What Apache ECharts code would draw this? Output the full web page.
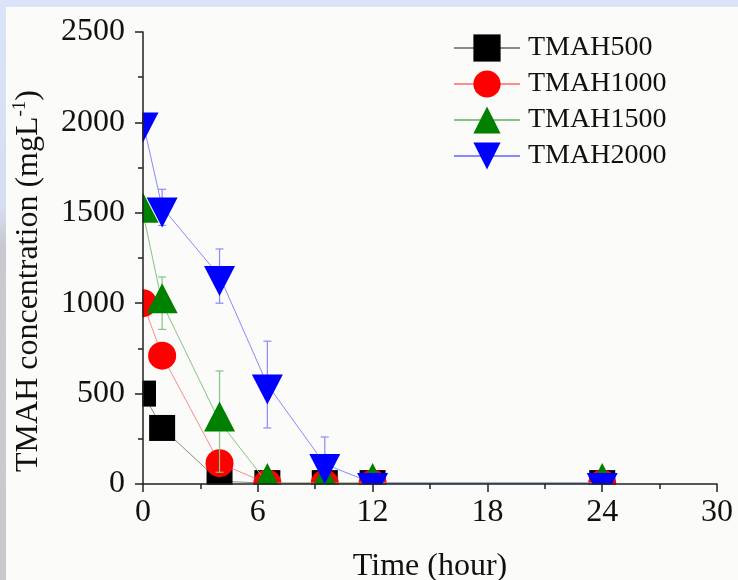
<!DOCTYPE html>
<html>
<head>
<meta charset="utf-8">
<title>TMAH concentration vs time</title>
<script src="https://cdn.jsdelivr.net/npm/echarts@6/dist/echarts.min.js"></script>
<style>
  html, body { margin: 0; padding: 0; background: #fbfbf9; }
  #chart { width: 738px; height: 580px; }
</style>
</head>
<body>
<div id="chart"></div>
<script>
// Sampling times (hour)
var times = [0, 1, 4, 6.5, 9.5, 12, 24];

// TMAH concentration (mg/L) for each initial dose
var tmah500  = [500, 310, 15, 5, 5, 5, 5];
var tmah1000 = [1000, 710, 115, 3, 3, 3, 3];
var tmah1500 = [1500, 1000, 345, 5, 5, 5, 5];
var tmah2000 = [2000, 1530, 1150, 550, 110, 5, 5];

// Standard deviations (mg/L), 0 = no bar drawn
var err500  = [0, 0, 0, 0, 0, 0, 0];
var err1000 = [0, 0, 0, 0, 0, 0, 0];
var err1500 = [0, 145, 280, 0, 0, 0, 0];
var err2000 = [0, 100, 150, 240, 150, 0, 0];

var xTicks = [0, 6, 12, 18, 24, 30];
var yTicks = [0, 500, 1000, 1500, 2000, 2500];

var FONT = 'Liberation Serif, Times New Roman, serif';
var BG = '#fbfbf9';

var seriesDefs = [
  { name: 'TMAH500',  values: tmah500,  errs: err500,  mark: '#000000', line: '#8a8a8a',
    symbol: 'rect', size: 26, offset: [0, 0] },
  { name: 'TMAH1000', values: tmah1000, errs: err1000, mark: '#ff0000', line: '#ff8a8a',
    symbol: 'circle', size: 28, offset: [0, 0] },
  { name: 'TMAH1500', values: tmah1500, errs: err1500, mark: '#008000', line: '#84c484',
    symbol: 'triangle', size: [31, 30], offset: [0, -5] },
  { name: 'TMAH2000', values: tmah2000, errs: err2000, mark: '#0000ff', line: '#8a8aff',
    symbol: 'path://M0,0L2,0L1,2Z', size: [31, 30], offset: [0, 5] }
];

function pairs(values) {
  return times.map(function (t, i) { return [t, values[i]]; });
}

function errorData(values, errs) {
  return times.map(function (t, i) { return [t, values[i], errs[i]]; });
}

function errorBarRenderer(color) {
  return function (params, api) {
    var e = api.value(2);
    if (!e) return null;
    var x = api.value(0), v = api.value(1);
    var top = api.coord([x, v + e]);
    var bot = api.coord([x, v - e]);
    var hw = 4;
    var style = { stroke: color, lineWidth: 1.2, fill: null };
    return {
      type: 'group',
      children: [
        { type: 'line', shape: { x1: top[0], y1: top[1], x2: bot[0], y2: bot[1] }, style: style },
        { type: 'line', shape: { x1: top[0] - hw, y1: top[1], x2: top[0] + hw, y2: top[1] }, style: style },
        { type: 'line', shape: { x1: bot[0] - hw, y1: bot[1], x2: bot[0] + hw, y2: bot[1] }, style: style }
      ]
    };
  };
}

var series = [];
seriesDefs.forEach(function (d, k) {
  series.push({
    type: 'custom',
    name: d.name + ' error',
    z: 2 + 2 * k,
    renderItem: errorBarRenderer(d.line),
    data: errorData(d.values, d.errs),
    encode: { x: 0, y: 1 },
    silent: true,
    clip: false
  });
  series.push({
    type: 'line',
    name: d.name,
    z: 3 + 2 * k,
    data: pairs(d.values),
    symbol: d.symbol,
    symbolSize: d.size,
    symbolOffset: d.offset,
    showAllSymbol: true,
    clip: false,
    itemStyle: { color: d.mark, borderWidth: 0 },
    lineStyle: { color: d.line, width: 1 },
    emphasis: { disabled: true },
    animation: false
  });
});

var axisCommon = {
  type: 'value',
  z: 30,
  nameLocation: 'middle',
  nameMoveOverlap: false,
  axisLine: { show: true, onZero: false, lineStyle: { color: '#222', width: 1.5 } },
  axisTick: { show: true, inside: false, length: 8, lineStyle: { color: '#222', width: 1.5 } },
  minorTick: { show: true, splitNumber: 2, length: 5, lineStyle: { color: '#222', width: 1.5 } },
  splitLine: { show: false }
};

var chart = echarts.init(document.getElementById('chart'), null, { renderer: 'canvas' });

chart.setOption({
  backgroundColor: BG,
  animation: false,
  grid: { left: 143, top: 32, width: 574, height: 452, containLabel: false, outerBoundsMode: 'none' },
  legend: {
    orient: 'vertical',
    left: 453,
    top: 34,
    padding: 0,
    itemWidth: 66,
    itemHeight: 34,
    itemGap: 8,
    z: 40,
    data: seriesDefs.map(function (d) { return d.name; }),
    textStyle: { fontFamily: FONT, fontSize: 28, color: '#111', padding: [0, 0, 0, 3] },
    selectedMode: false
  },
  xAxis: Object.assign({}, axisCommon, {
    min: xTicks[0],
    max: xTicks[xTicks.length - 1],
    interval: 6,
    name: 'Time (hour)',
    nameGap: 67,
    nameTextStyle: { fontFamily: FONT, fontSize: 32, color: '#111' },
    axisLabel: { margin: 13, fontFamily: FONT, fontSize: 32, color: '#111' }
  }),
  yAxis: Object.assign({}, axisCommon, {
    min: yTicks[0],
    max: yTicks[yTicks.length - 1],
    interval: 500,
    name: '{a|TMAH concentration (mgL}{s|-1}{a|)}',
    nameGap: 96,
    nameTextStyle: {
      padding: [0, 46, 0, 0],
      rich: {
        a: { fontFamily: FONT, fontSize: 32, color: '#111', lineHeight: 36 },
        s: { fontFamily: FONT, fontSize: 19, color: '#111', lineHeight: 20, verticalAlign: 'top' }
      }
    },
    axisLabel: {
      margin: 18, fontFamily: FONT, fontSize: 32, color: '#111',
      formatter: function (v) { return String(v); }
    }
  }),
  graphic: [
    // page frame: top band and left band
    { type: 'rect', z: 50, silent: true, shape: { x: 0, y: 0, width: 738, height: 7 },
      style: { fill: '#dbe3fb' } },
    { type: 'rect', z: 50, silent: true, shape: { x: 0, y: 0, width: 6, height: 580 },
      style: { fill: new echarts.graphic.LinearGradient(0, 0, 0, 1, [
        { offset: 0, color: '#dbe3fb' },
        { offset: 0.36, color: '#d6dcf2' },
        { offset: 0.42, color: '#c8c9d0' },
        { offset: 1, color: '#c9c9cc' }
      ]) } },
    // masks keeping markers inside the plot frame
    { type: 'rect', z: 20, silent: true, shape: { x: 110, y: 20, width: 32.3, height: 480 },
      style: { fill: BG } },
    { type: 'rect', z: 20, silent: true, shape: { x: 110, y: 484.7, width: 620, height: 24 },
      style: { fill: BG } }
  ],
  series: series
});
</script>
</body>
</html>
